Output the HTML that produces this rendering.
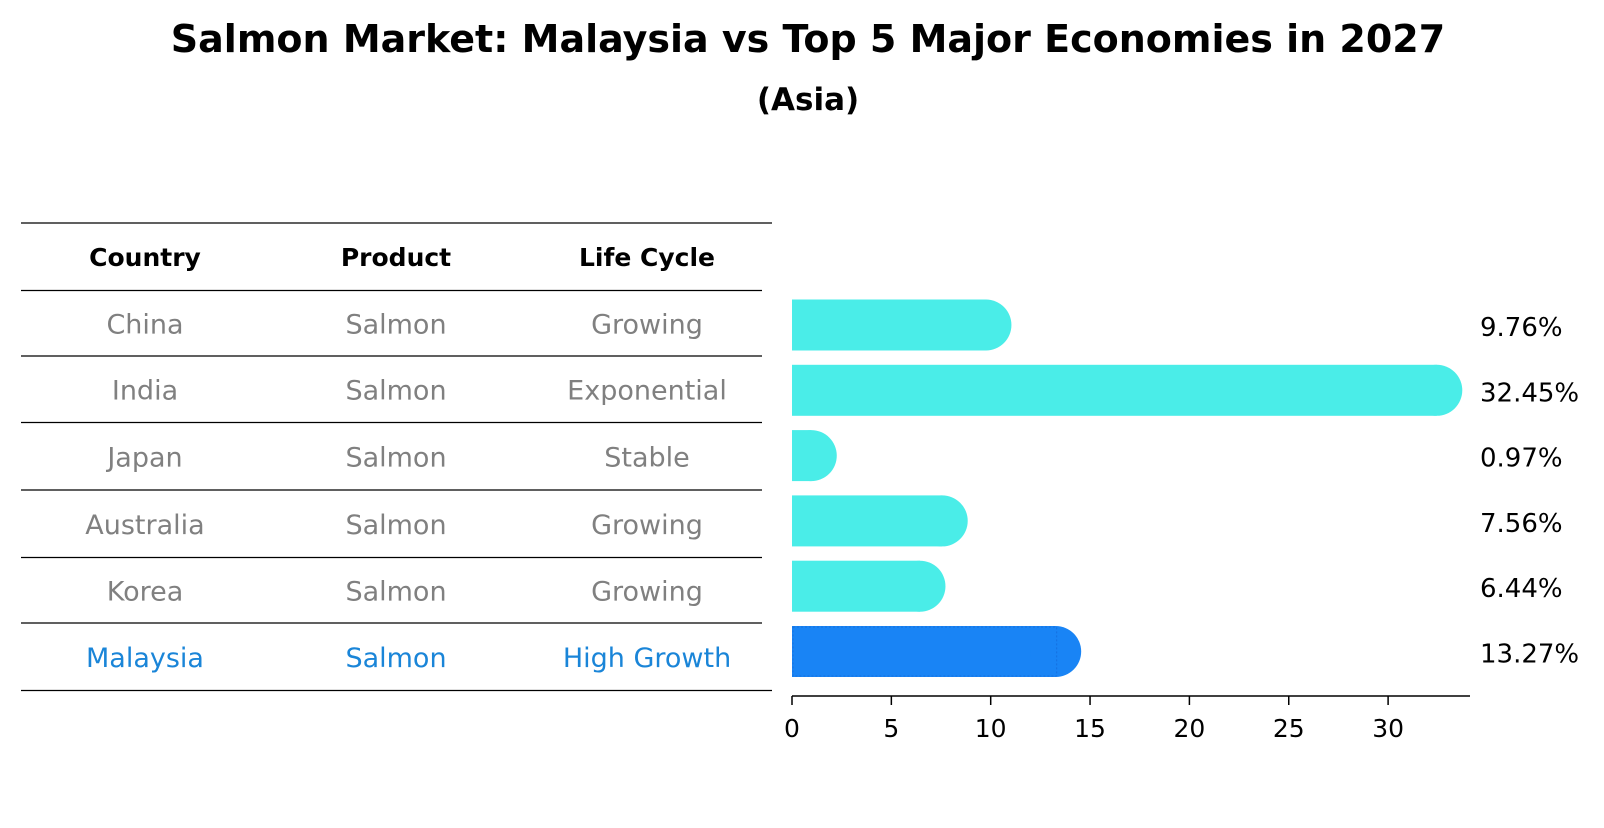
<!DOCTYPE html>
<html><head><meta charset="utf-8"><style>
body{margin:0;background:#fff;}
svg text{font-family:"DejaVu Sans","Liberation Sans",sans-serif;}
</style></head><body>
<svg width="1604" height="823" xmlns="http://www.w3.org/2000/svg">
<text x="808" y="52" text-anchor="middle" font-size="38" font-weight="bold">Salmon Market: Malaysia vs Top 5 Major Economies in 2027</text>
<text x="808" y="110" text-anchor="middle" font-size="31" font-weight="bold">(Asia)</text>
<g id="table"></g>
<g id="bars"></g>
</svg>
<script>
const countries=["China","India","Japan","Australia","Korea","Malaysia"];
const products=["Salmon","Salmon","Salmon","Salmon","Salmon","Salmon"];
const lifeCycles=["Growing","Exponential","Stable","Growing","Growing","High Growth"];
const values=[9.76,32.45,0.97,7.56,6.44,13.27];
const valueLabels=["9.76%","32.45%","0.97%","7.56%","6.44%","13.27%"];
const ticks=[0,5,10,15,20,25,30];
const NS="http://www.w3.org/2000/svg";
function mk(tag,attrs,parent){const e=document.createElementNS(NS,tag);for(const k in attrs)e.setAttribute(k,attrs[k]);parent.appendChild(e);return e;}
const tb=document.getElementById('table');
const lineYs=[223,290.5,356,422.5,490,557.5,623,690.5];
lineYs.forEach(y=>{const l=mk('line',{x1:21,x2:772,y1:y,y2:y,stroke:'#000','stroke-width':1.2},tb);

});
const colX=[145,396,647];
["Country","Product","Life Cycle"].forEach((h,i)=>{const t=mk('text',{x:colX[i],y:266,'text-anchor':'middle','font-size':25,'font-weight':'bold'},tb);t.textContent=h;

});
const rowY=i=>(lineYs[i+1]+lineYs[i+2])/2;
countries.forEach((c,i)=>{const col=i===countries.length-1?'#1a85d8':'#808080';
[c,products[i],lifeCycles[i]].forEach((v,j)=>{const t=mk('text',{x:colX[j],y:rowY(i)+10,'text-anchor':'middle','font-size':27,fill:col},tb);t.textContent=v;

});});
const bg=document.getElementById('bars');
const x0=792,scale=19.87;const xs=v=>x0+v*scale;
const bh=51;
values.forEach((v,i)=>{const cy=325+i*65.3;const last=i===values.length-1;const col=last?'#1984f5':'#4aede8';
const g=mk('g',{},bg);


mk('rect',{x:x0,y:cy-bh/2,width:Math.max(0,xs(v)-x0),height:bh,fill:col},g);
mk('circle',{cx:Math.max(xs(v),x0),cy:cy,r:bh/2,fill:col},g);
if(last)mk('rect',{x:x0+1,y:cy-bh/2+1,width:xs(v)-x0,height:bh-2,fill:'none',stroke:'#1570e0','stroke-dasharray':'2,2'},g);
const t=mk('text',{x:1480,y:cy+11,'font-size':26},bg);t.textContent=valueLabels[i];

});
// clip cap overflow on left for small bars
const cover=mk('rect',{x:x0-30,y:280,width:30,height:400,fill:'#fff'},bg);


const ax=mk('line',{x1:x0,x2:1470,y1:696,y2:696,stroke:'#000','stroke-width':1.5},bg);


ticks.forEach(v=>{const tk=mk('line',{x1:xs(v),x2:xs(v),y1:696,y2:705,stroke:'#000','stroke-width':1.5},bg);


const t=mk('text',{x:xs(v),y:737,'text-anchor':'middle','font-size':25},bg);t.textContent=v;

});
</script>
</body></html>
